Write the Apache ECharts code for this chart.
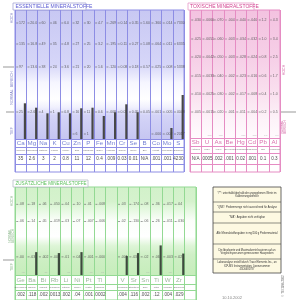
<!DOCTYPE html>
<html><head><meta charset="utf-8">
<script src="https://cdn.jsdelivr.net/npm/echarts/dist/echarts.min.js"></script>
<style>html,body{margin:0;padding:0;background:#fff}#c{width:300px;height:300px}</style>
</head><body><div id="c"></div>
<script>
// ---------- DATA ----------
const essSymbols = ['Ca','Mg','Na','K','Cu','Zn','P','Fe','Mn','Cr','Se','B','Co','Mo','S'];
const essNames = ['Calcium','Magnesium','Natrium','Kalium','Kupfer','Zink','Phosphor','Eisen','Mangan','Chrom','Selen','Bor','Kobalt','Molybdän','Schwefel'];
const essValues = ['35','2.6','3','2','0.8','11','12','0.4','.009','0.03','0.01','N/A','.001','.001','4230'];
const essBars = [35.7, 31.3, 25.7, 26.7, 25.7, 30.7, 31.3, 23, 26.7, 34.7, 26.7, null, null, 11, 44];
const essLevels = [116, 95, 72, 27, 5];
const essTickRow1 = ['172','20.0','60','46','6.0','32','30','4.7','.269','0.14','0.35','1.60','.360','.014','7330'];
const essTickRow2 = ['135','16.8','49','35','4.8','27','25','3.2','.195','0.11','0.27','1.08','.064','.011','6335'];
const essTickRow3 = ['97','13.6','38','24','3.6','21','20','1.6','.120','0.08','0.18','0.57','.025','.008','5338'];
const essTickRow4 = ['25','2.6','4','1','0.8','16','11','0.6','.008','0.05','0.05','0.05','.001','.005','4048'];
const essTickRow5 = ['','','','','','6','1','','','','','','.000','.002','2017'];

const toxSymbols = ['Sb','U','As','Be','Hg','Cd','Pb','Al'];
const toxNames = ['Antimon','Uran','Arsen','Beryllium','Quecksilber','Cadmium','Blei','Aluminium'];
const toxValues = ['N/A','.0005','.002','.001','0.02','.001','0.1','0.3'];
const toxBars = [null, null, null, null, null, null, null, null];
const toxLevels = [118, 99, 81, 62, 44, 26];
const toxTickRow1 = ['.030','.0060','.070','.004','.040','.040','1.2','4.3'];
const toxTickRow2 = ['.025','.0051','.060','.003','.034','.032','1.0','3.4'];
const toxTickRow3 = ['.020','.0042','.050','.003','.028','.024','0.8','2.5'];
const toxTickRow4 = ['.015','.0033','.040','.002','.023','.016','0.6','1.7'];
const toxTickRow5 = ['.010','.0025','.030','.002','.017','.008','0.4','1.0'];
const toxTickRow6 = ['.005','.0015','.020','.001','.011','.004','0.2','0.5'];
const toxTiny = ['','.000','.000','','.000','.000','0.0','0.0'];

const addSymbols = ['Ge','Ba','Bi','Rb','Li','Ni','Pt','Tl','','V','Sr','Sn','Ti','W','Zr',''];
const addNames = ['Germanium','Barium','Wismut','Rubidium','Lithium','Nickel','Platin','Thallium','','Vanadium','Strontium','Zinn','Titan','Wolfram','Zirkonium',''];
const addValues = ['.002','.118','.002','.0013','.002','.04','.001','.0002','','.004','.116','.002','.12','.004','.029',''];
const addBars = [null, 24, null, 23, null, 24, null, null, null, 20, 23, null, 31, null, 22.5, null];
const addLevels = [74, 56, 19];
const addTickRow1 = ['.08','.18','.06','.050','.04','.10','.01','.008','','.03','.174','.08','.36','.017','.04',''];
const addTickRow2 = ['.06','.14','.05','.019','.03','.07','.007','.006','','.02','.130','.06','.26','.011','.030',''];
const addTickRow3 = ['.00','.03','.002','.003','.01','.04','.001','.000','','.001','.03','.02','.06','.003','.02',''];
const addTiny = ['.00','','.00','','.00','','.00','.00','','','','.00','','.00','',''];

// ---------- LAYOUT ----------
const FONT = '"Liberation Sans", Arial, sans-serif';
const grad = stops => ({type:'linear', x:0, y:0, x2:0, y2:1, colorStops: stops.map(s => ({offset:s[0], color:s[1]}))});

const panels = [
  { left:15, top:10, cols:15, colW:11.27, max:129, min:-33,
    rowLines:[0,-8,-15,-25], rowY:[-4,-11.5,-20],
    line:'#8d8de4', sym:'#5262c8',
    bg: grad([[0,'#c8c8f3'],[0.34,'#d6d6f8'],[0.45,'#f6f6ff'],[0.55,'#ffffff'],[0.60,'#f0f0fd'],[0.65,'#d4d4f7'],[0.795,'#c6c6f1'],[0.797,'#ffffff'],[1,'#ffffff']]),
    symbols:essSymbols, names:essNames, values:essValues, bars:essBars,
    levels:essLevels, ticks:[essTickRow1,essTickRow2,essTickRow3,essTickRow4,essTickRow5], tiny:null, barColor:'#474747' },
  { left:190, top:10, cols:8, colW:11.25, max:128, min:-34,
    rowLines:[0,-8,-15,-26], rowY:[-4,-11.5,-20.5],
    line:'#e58cc3', sym:'#d04d99',
    bg: grad([[0,'#f3c2e0'],[0.30,'#f6cfe7'],[0.50,'#f9dfee'],[0.68,'#fdf3f9'],[0.78,'#fffafd'],[0.79,'#ffffff'],[1,'#ffffff']]),
    symbols:toxSymbols, names:toxNames, values:toxValues, bars:toxBars,
    levels:toxLevels, ticks:[toxTickRow1,toxTickRow2,toxTickRow3,toxTickRow4,toxTickRow5,toxTickRow6], tiny:toxTiny, barColor:'#474747' },
  { left:15, top:187, cols:16, colW:11.31, max:92, min:-26,
    rowLines:[0,-10,-16], rowY:[-5,-13,-21],
    line:'#93d993', sym:'#86a886',
    bg: grad([[0,'#d2f1ca'],[0.13,'#d5f2cd'],[0.2,'#e4f8df'],[0.3,'#fbfefa'],[0.44,'#ffffff'],[0.52,'#def5d7'],[0.6,'#cfefc6'],[0.778,'#c6edbb'],[0.78,'#ffffff'],[1,'#ffffff']]),
    symbols:addSymbols, names:addNames, values:addValues, bars:addBars,
    levels:addLevels, ticks:[addTickRow1,addTickRow2,addTickRow3], tiny:addTiny, barColor:'#3d4a3d' }
];

function tickData(levels, ticks){ const o=[]; levels.forEach((lv,r)=>ticks[r].forEach((t,i)=>{ if(t!=='') o.push([i+0.2, lv, t]); })); return o; }
function rowData(arr, y){ const o=[]; arr.forEach((t,i)=>{ if(t!=='') o.push([i+0.5, y, t]); }); return o; }
function tinyData(arr){ const o=[]; if(!arr) return o; arr.forEach((t,i)=>{ if(t!=='') o.push([i+0.72, 3, t]); }); return o; }
function barData(arr){ const o=[]; arr.forEach((v,i)=>{ if(v!=null) o.push([i+0.88, v]); }); return o; }
const lbl = (fs, color, pos, extra) => Object.assign({show:true, position:pos||'inside', fontSize:fs, color:color, fontFamily:FONT, formatter:p=>p.data[2]}, extra||{});

const grids=[], xAxes=[], yAxes=[], series=[];
panels.forEach((p, k) => {
  grids.push({left:p.left, top:p.top, width:p.cols*p.colW, height:p.max-p.min, show:true, borderColor:p.line, borderWidth:1, backgroundColor:p.bg});
  xAxes.push({type:'value', gridIndex:k, min:0, max:p.cols, interval:1, axisLine:{show:false}, axisTick:{show:false}, axisLabel:{show:false}, splitLine:{show:true, lineStyle:{color:p.line, width:1}}});
  yAxes.push({type:'value', gridIndex:k, min:p.min, max:p.max, show:false, splitLine:{show:false}});
  const base = {xAxisIndex:k, yAxisIndex:k, silent:true, animation:false};
  series.push(Object.assign({type:'bar', barWidth:2.2, data:barData(p.bars), itemStyle:{color:p.barColor},
    markLine:{silent:true, symbol:'none', animation:false, label:{show:false}, lineStyle:{color:p.line, width:1, type:'solid'}, data:p.rowLines.map(v=>({yAxis:v}))}}, base));
  series.push(Object.assign({type:'scatter', symbol:'rect', symbolSize:[2,0.7], itemStyle:{color:'#555'}, data:tickData(p.levels,p.ticks),
    label:lbl(3.5,'#444','right',{distance:0.8})}, base));
  series.push(Object.assign({type:'scatter', symbolSize:1, itemStyle:{color:'rgba(0,0,0,0)'}, data:rowData(p.symbols,p.rowY[0]), label:lbl(6.2,p.sym)}, base));
  series.push(Object.assign({type:'scatter', symbolSize:1, itemStyle:{color:'rgba(0,0,0,0)'}, data:rowData(p.names,p.rowY[1]), label:lbl(2.4,'#555')}, base));
  series.push(Object.assign({type:'scatter', symbolSize:1, itemStyle:{color:'rgba(0,0,0,0)'}, data:rowData(p.values,p.rowY[2]), label:lbl(4.6,'#222')}, base));
  series.push(Object.assign({type:'scatter', symbolSize:1, itemStyle:{color:'rgba(0,0,0,0)'}, data:tinyData(p.tiny), label:lbl(2.4,'#aaa')}, base));
});

// y pixel of a level in a panel
const yPx = (p, v) => p.top + (p.max - v);

const vtext = (x, y, text, color, fs) => ({type:'text', x:x, y:y, rotation:Math.PI/2, silent:true,
  style:{text:text, fontSize:fs||3.6, fill:color, fontFamily:FONT, align:'center', verticalAlign:'middle'}});
const hline = (x1, x2, y, color) => ({type:'line', silent:true, shape:{x1:x1, y1:y, x2:x2, y2:y}, style:{stroke:color||'#555', lineWidth:0.6}});

const E = panels[0], T = panels[1], A = panels[2];
const boxX = 213, boxW = 68, boxRows = [187, 202, 212, 223, 244, 259, 273];
const boxTexts = [
  '*/**: unterhalb/oberhalb der angegebenen Werte im\nKalibrierungsbereich',
  '"QNS": Probenmenge nicht ausreichend für Analyse',
  '"N/A": Angaben nicht verfügbar',
  'Alle Mineralstoffangaben in mg/100 g Probenmaterial',
  'Die Idealwerte und Maximalwerte basieren auf an\nVergleichspersonen gemessenen Haarproben',
  'Laboranalyse erstellt durch Trace Elements Inc., an\nICP-MS Instrumentation, Lizenznummer\n45D0481787'
];

const graphics = [
  // tabs
  {type:'rect', silent:true, shape:{x:13, y:3, width:73, height:7}, style:{fill:'#fff', stroke:'#a4a4d4', lineWidth:0.8}},
  {type:'text', silent:true, x:15.5, y:6.7, style:{text:'ESSENTIELLE MINERALSTOFFE', fontSize:5, fill:'#5a5ad2', fontFamily:FONT, verticalAlign:'middle'}},
  {type:'rect', silent:true, shape:{x:188, y:3, width:66, height:7}, style:{fill:'#fff', stroke:'#e79ac8', lineWidth:0.8}},
  {type:'text', silent:true, x:190, y:6.7, style:{text:'TOXISCHE MINERALSTOFFE', fontSize:5, fill:'#d2428f', fontFamily:FONT, verticalAlign:'middle'}},
  {type:'rect', silent:true, shape:{x:13, y:180, width:75, height:7}, style:{fill:'#fff', stroke:'#b8bcc8', lineWidth:0.8}},
  {type:'text', silent:true, x:15.5, y:183.7, style:{text:'ZUSÄTZLICHE MINERALSTOFFE', fontSize:4.6, fill:'#5fc05f', fontFamily:FONT, verticalAlign:'middle'}},
  // side labels
  vtext(11.5, 18, 'HOCH', '#7e7ec4'),
  vtext(11.5, 88, 'NORMAL  BEREICH', '#7e7ec4'),
  vtext(11.5, 131, 'TIEF', '#7e7ec4'),
  hline(3, 14, yPx(E, E.levels[2])), hline(6, 14, yPx(E, E.levels[3])),
  vtext(284, 70, 'HOCH', '#d060a0'),
  vtext(284, 127, 'NORMAL\nBEREICH', '#d060a0', 3),
  hline(280, 296, yPx(T, T.levels[5])),
  vtext(11.5, 201, 'HOCH', '#86b486'),
  vtext(11.5, 236, 'NORMAL\nBEREICH', '#86b486', 3.2),
  vtext(11.5, 267, 'TIEF', '#86b486'),
  hline(3, 14, yPx(A, A.levels[2])),
  // info box
  {type:'rect', silent:true, shape:{x:boxX, y:boxRows[0], width:boxW, height:boxRows[6]-boxRows[0]}, style:{fill:'#fdf9e2', stroke:'#444', lineWidth:0.8}},
  // date and copyright
  {type:'text', silent:true, x:232, y:298, style:{text:'10.10.2002', fontSize:4, fill:'#888', fontFamily:FONT, align:'center', verticalAlign:'middle'}},
  vtext(283, 286, '© TEI 1996-2002', '#666', 2.8)
];
for (let i = 1; i < boxRows.length - 1; i++) graphics.push({type:'line', silent:true, shape:{x1:boxX, y1:boxRows[i], x2:boxX+boxW, y2:boxRows[i]}, style:{stroke:'#444', lineWidth:0.6}});
boxTexts.forEach((t, i) => graphics.push({type:'text', silent:true, x:boxX+boxW/2, y:(boxRows[i]+boxRows[i+1])/2,
  style:{text:t, fontSize:2.6, lineHeight:3.4, fill:'#333', fontFamily:FONT, align:'center', verticalAlign:'middle'}}));

const chart = echarts.init(document.getElementById('c'), null, {renderer:'canvas'});
chart.setOption({animation:false, backgroundColor:'#fff', grid:grids, xAxis:xAxes, yAxis:yAxes, series:series, graphic:graphics});
</script></body></html>
